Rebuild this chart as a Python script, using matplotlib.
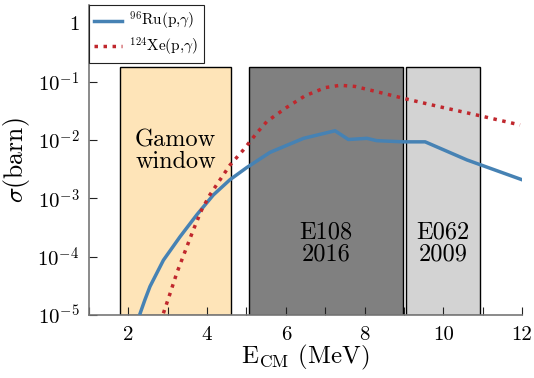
import numpy as np
import matplotlib
matplotlib.use("Agg")
import matplotlib.pyplot as plt

plt.rcParams['font.family'] = 'serif'
plt.rcParams['font.serif'] = ['cmr10']
plt.rcParams['mathtext.fontset'] = 'cm'
plt.rcParams['axes.unicode_minus'] = False

# Data (log10 of cross section in barn)
ru_E = [2.30, 2.42, 2.55, 2.89, 3.31, 3.74, 4.16, 4.58, 5.01, 5.60, 6.45, 7.25, 7.59, 8.06, 8.31, 8.99, 9.54, 10.6, 12.0]
ru_log = [-4.97, -4.74, -4.51, -4.06, -3.66, -3.28, -2.94, -2.68, -2.47, -2.21, -1.97, -1.84, -1.99, -1.97, -2.01, -2.03, -2.03, -2.34, -2.68]
xe_E = [2.89, 3.06, 3.23, 3.44, 3.65, 3.86, 4.07, 4.33, 4.58, 4.92, 5.26, 5.52, 6.02, 6.49, 7.00, 7.38, 7.76, 8.31, 9.03, 9.92, 10.85, 11.95]
xe_log = [-4.97, -4.63, -4.28, -3.91, -3.54, -3.20, -2.94, -2.68, -2.43, -2.17, -1.88, -1.68, -1.44, -1.24, -1.10, -1.06, -1.08, -1.17, -1.29, -1.43, -1.57, -1.74]

regions = ['Gamow\nwindow', 'E108\n2016', 'E062\n2009']
region_lo = [1.79, 5.07, 9.06]
region_hi = [4.61, 8.98, 10.94]
region_top = 0.178
region_colors = ['#fee4b8', '#808080', '#d3d3d3']
region_text_logy = [-2.19, -3.77, -3.77]

yticks = [1e-5, 1e-4, 1e-3, 1e-2, 1e-1, 1]
ytick_labels = [r'$10^{-5}$', r'$10^{-4}$', r'$10^{-3}$', r'$10^{-2}$', r'$10^{-1}$', r'$1$']
xticks = [2, 4, 6, 8, 10, 12]

ru_s = [10 ** v for v in ru_log]
xe_s = [10 ** v for v in xe_log]

fig = plt.figure(figsize=(5.34, 3.78), dpi=100)
ax = fig.add_axes([89 / 534, 63 / 378, (522 - 89) / 534, (315 - 5) / 378])
ax.set_yscale('log')
ax.set_xlim(1, 12)
ax.set_ylim(1e-5, 10 ** 0.317)

for lab, lo, hi, c, ty in zip(regions, region_lo, region_hi, region_colors, region_text_logy):
    ax.bar(lo, region_top - 1e-5, width=hi - lo, bottom=1e-5, align='edge',
           color=c, edgecolor='black', linewidth=1.0, zorder=1)
    ax.text((lo + hi) / 2, 10 ** ty, lab, ha='center', va='center', fontsize=17.5,
            linespacing=1.0, zorder=3)

ax.plot(ru_E, ru_s, color='#4682b4', lw=2.5, label=r'$^{96}$Ru(p,$\gamma$)', zorder=4)
ax.plot(xe_E, xe_s, color='#c0272d', lw=2.5, linestyle=(0, (1, 1.6)),
        label=r'$^{124}$Xe(p,$\gamma$)', zorder=4)

ax.set_yticks(yticks)
ax.set_yticklabels(ytick_labels)
ax.yaxis.set_minor_locator(matplotlib.ticker.NullLocator())
ax.set_xticks(xticks)
ax.set_xticks(range(1, 13), minor=True)
ax.tick_params(axis='both', which='both', direction='in', length=6, width=0.8,
               labelsize=15, color='#222222')
ax.tick_params(axis='x', pad=8)
ax.tick_params(axis='y', pad=7)

for s in ['top', 'right']:
    ax.spines[s].set_visible(False)
for s in ['left', 'bottom']:
    ax.spines[s].set_color('#777777')
    ax.spines[s].set_linewidth(1.2)

ax.set_xlabel(r'E$_{\rm CM}$ (MeV)', fontsize=18, labelpad=-1)
ax.set_ylabel(r'$\sigma$(barn)', fontsize=18.5, labelpad=4)

leg = ax.legend(loc='upper left', bbox_to_anchor=(0, 1), borderaxespad=0,
                fancybox=False, edgecolor='#222222', framealpha=1, fontsize=11,
                handlelength=1.8, handletextpad=0.5, labelspacing=0.2,
                borderpad=0.35)
leg.get_frame().set_linewidth(0.8)

fig.savefig('out.png', dpi=100)
